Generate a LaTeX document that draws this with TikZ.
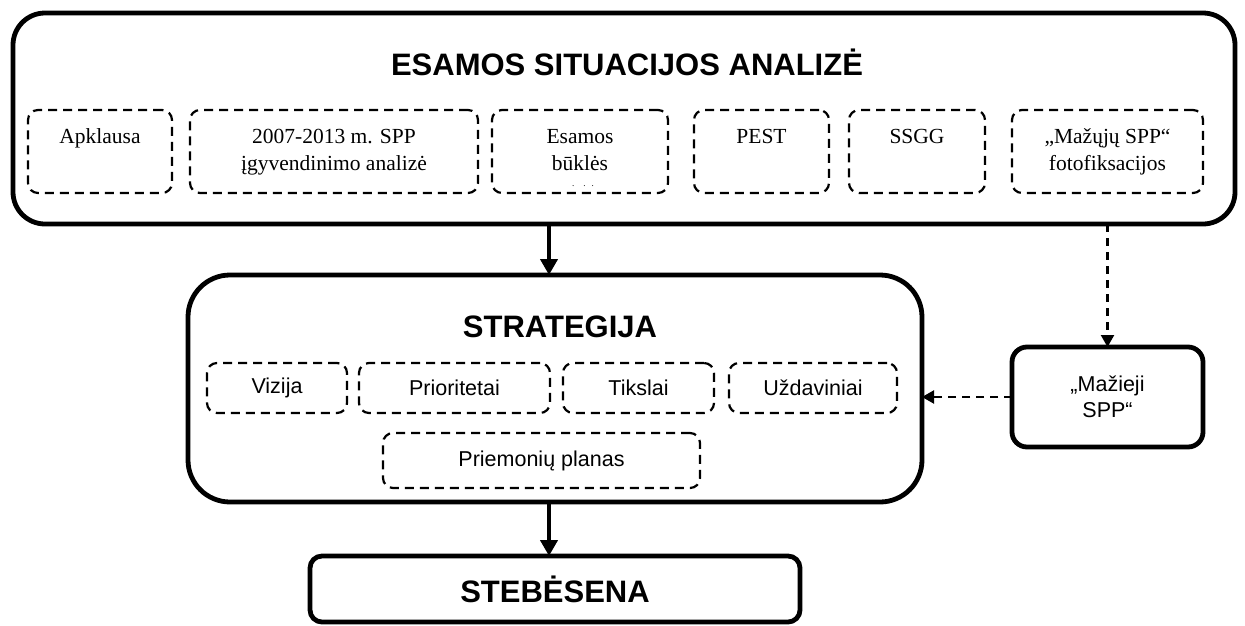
\documentclass[tikz,border=0pt]{standalone}
\usepackage{fontspec}
\setmainfont{Liberation Serif}
\newfontfamily\arialf{Liberation Sans}
\usetikzlibrary{arrows.meta}
\begin{document}
\begin{tikzpicture}[x=1pt,y=-1pt,
  bigbox/.style={draw, line width=4.8pt, inner sep=0pt, outer sep=0pt},
  dbox/.style={draw, line width=2.2pt, dash pattern=on 9pt off 6pt, rounded corners=10pt,
     inner sep=0pt, outer sep=0pt, align=center, font=\fontsize{21.5}{27}\selectfont},
  sbox/.style={draw, line width=2.2pt, dash pattern=on 9pt off 6pt, rounded corners=10pt,
     inner sep=0pt, outer sep=0pt, align=center, font=\arialf\fontsize{21.5}{26}\selectfont},
  ttl/.style={font=\arialf\bfseries\fontsize{31}{36}\selectfont, inner sep=0pt},
  thickarrow/.style={line width=4pt, -{Triangle[length=16pt,width=17pt]}},
  darrow/.style={line width=2.2pt, dash pattern=on 8pt off 6pt, -{Triangle[length=12pt,width=13pt]}}
]
\fill[white] (0,0) rectangle (1245,625);
\useasboundingbox (0,0) rectangle (1245,625);

% top box
\node[bigbox, rounded corners=32pt, minimum width=1222pt, minimum height=211pt] (top) at (624,118.5) {};
\node[ttl] (toptitle) at (627,62) {ESAMOS SITUACIJOS ANALIZĖ};
\node[dbox, minimum width=144pt, minimum height=83pt] (apk) at (100,151.5) {\strut Apklausa\\\strut};
\node[dbox, minimum width=288pt, minimum height=83pt] (spp) at (334,151.5) {\strut 2007-2013 m. SPP\\\strut įgyvendinimo analizė};
\node[dbox, minimum width=176pt, minimum height=83pt] (esam) at (580,151.5) {\strut Esamos\\\strut būklės};
\node[font=\fontsize{9}{9}\selectfont, inner sep=0pt] (esdots) at (583,186) {.\quad .\,\, .};
\node[dbox, minimum width=135pt, minimum height=83pt] (pest) at (761.5,151.5) {\strut PEST\\\strut};
\node[dbox, minimum width=136pt, minimum height=83pt] (ssgg) at (917,151.5) {\strut SSGG\\\strut};
\node[dbox, minimum width=191pt, minimum height=83pt] (foto) at (1107.5,151.5) {\strut „Mažųjų SPP“\\\strut fotofiksacijos};

% strategy box
\node[bigbox, rounded corners=42pt, minimum width=734pt, minimum height=227pt] (strat) at (555,388.5) {};
\node[ttl] (strattitle) at (560,327) {STRATEGIJA};
\node[sbox, minimum width=140pt, minimum height=50pt] (viz) at (277,388) {Vizija};
\node[sbox, minimum width=191pt, minimum height=50pt] (prio) at (454.5,388) {Prioritetai};
\node[sbox, minimum width=151pt, minimum height=50pt] (tiks) at (638.5,388) {Tikslai};
\node[sbox, minimum width=168pt, minimum height=50pt] (uzd) at (813,388) {Uždaviniai};
\node[sbox, minimum width=317pt, minimum height=55pt] (plan) at (541.5,460.5) {Priemonių planas};

% Mazieji SPP
\node[bigbox, rounded corners=15pt, minimum width=191pt, minimum height=100pt, align=center,
      font=\arialf\fontsize{21.5}{26}\selectfont] (maz) at (1107.5,397) {„Mažieji\\SPP“};

% Stebesena
\node[bigbox, rounded corners=12pt, minimum width=490pt, minimum height=66pt,
      font=\arialf\bfseries\fontsize{31}{36}\selectfont] (steb) at (555,589) {STEBĖSENA};

% connectors
\coordinate (ax) at (549,0);
\draw[thickarrow] (top.south -| ax) -- (strat.north -| ax);
\draw[thickarrow] (strat.south -| ax) -- (steb.north -| ax);
\draw[darrow] (top.south -| maz.north) -- (maz.north);
\draw[darrow] (maz.west) -- (maz.west -| strat.east);
\end{tikzpicture}
\end{document}
